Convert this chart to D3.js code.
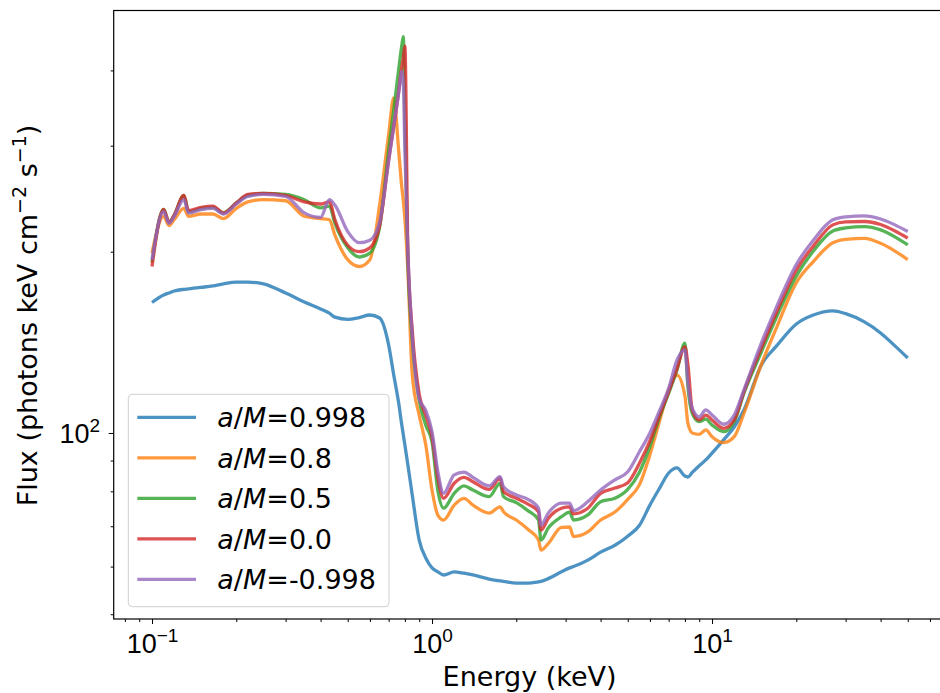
<!DOCTYPE html>
<html>
<head>
<meta charset="utf-8">
<script src="https://cdn.jsdelivr.net/npm/d3@7"></script>
<style>
  body { margin: 0; background: #fff; }
  svg { display: block; font-family: "DejaVu Sans", sans-serif; }
</style>
</head>
<body>
<div id="chart"></div>
<script>
// 1: DATA
const energy = [0.1, 0.11, 0.115, 0.12, 0.13, 0.135, 0.15, 0.165, 0.18, 0.2,
  0.22, 0.25, 0.3, 0.35, 0.4, 0.43, 0.45, 0.5, 0.55, 0.6,
  0.65, 0.7, 0.73, 0.76, 0.78, 0.79, 0.8, 0.82, 0.85, 0.9,
  0.95, 1.0, 1.05, 1.1, 1.2, 1.3, 1.4, 1.6, 1.75, 1.8,
  2.0, 2.2, 2.4, 2.45, 2.6, 2.9, 3.1, 3.2, 3.6, 4.0,
  4.5, 5.0, 5.5, 6.0, 6.5, 7.0, 7.5, 8.0, 8.2, 8.5,
  9.0, 9.5, 10, 11, 12, 13, 15, 17, 20, 23,
  27, 30, 35, 40, 45, 50];

const flux0998 = [164.7, 169.5, 170.8, 172.1, 173.2, 173.5, 174.5, 175.5, 176.9, 178,
  178, 176.9, 170.8, 165, 160.7, 158.1, 155.7, 154.4, 155.5, 157,
  155.2, 140, 124.8, 112.2, 103.1, 99.2, 95.5, 88.5, 78.9, 66.4,
  62.0, 59.7, 58.8, 58.1, 58.8, 58.5, 58.1, 57.2, 56.8, 56.7,
  56.3, 56.3, 56.6, 56.7, 57.3, 58.8, 59.7, 60.0, 61.5, 63.4,
  65.1, 67.4, 70.2, 75.9, 81, 85.8, 87.5, 84.8, 84.5, 86,
  88.2, 90.2, 92.6, 97.4, 102.3, 109.2, 129.7, 139.5, 151.7, 157,
  159.5, 157.8, 152.9, 146.6, 139.5, 133.2];

const flux08 = [199, 229, 221, 226, 236, 229, 231, 231, 227, 236,
  242, 244, 243, 229, 227, 226, 213, 194, 189, 194,
  239, 313, 360, 295, 256, 243, 227, 186, 125, 107,
  95.5, 80.4, 73, 71.7, 75.9, 77.9, 75.9, 73.6, 75.4, 74,
  71.7, 69.2, 66.4, 63.9, 65.5, 69.7, 69.8, 67.3, 68.5, 71.7,
  73.9, 77.6, 82, 92, 104.8, 117.9, 124.8, 115.2, 103.8, 100,
  99.5, 101.2, 98.6, 96.4, 98.6, 107.8, 130, 149.6, 177.7, 192.6,
  206.9, 209.6, 210.5, 206.5, 200.5, 194.1];

const flux05 = [192, 235, 224, 230, 248, 233, 236, 237, 232, 241,
  248, 250, 249, 244, 236.5, 238, 223, 203, 196, 199,
  220, 295, 344, 401, 440, 455, 331, 194, 143, 113.5,
  103, 96.6, 80, 75, 79.4, 81.7, 80.4, 78.4, 82.5, 78.4,
  76.6, 74.3, 71.7, 66.4, 69.5, 72.6, 73.9, 71.7, 73.1, 76.9,
  77.9, 80.6, 86, 95, 106.4, 116.4, 127.3, 141, 119.4, 107.8,
  104.4, 105.4, 103.1, 100.5, 104.4, 116.4, 136.3, 155.8, 182.3, 200.5,
  216.5, 219, 220.2, 217.4, 211.7, 205.3];

const flux00 = [189, 235, 224, 230, 248, 234, 237, 238, 232, 241,
  249, 250, 248, 242, 240, 242, 226, 205, 200, 203,
  221, 284, 323, 368, 405, 420, 439, 201, 148, 116,
  107, 98.5, 84, 77.9, 82.5, 84.4, 83, 80.6, 84.1, 79.9,
  77.9, 76.2, 74, 69, 72.1, 75, 75.4, 73.4, 75, 79.4,
  81, 82.7, 89, 97, 107.1, 117.1, 128, 139, 130, 109.2,
  105.1, 107.1, 105.1, 101.8, 105.1, 117.1, 138.5, 158.8, 186.5, 204.3,
  221.6, 224.2, 224.5, 221.9, 216.5, 210.7];

const fluxm0998 = [194, 233, 223, 229, 244, 232, 235, 236, 231, 240,
  247, 249, 247, 232, 228, 244, 239, 216, 207, 209,
  224, 283, 323, 367, 398, 380, 295, 198, 145, 114,
  109, 100.4, 86, 79.4, 85.2, 86.1, 84.4, 81.7, 84.6, 81.4,
  78.9, 77.6, 75, 70.3, 73.6, 76.5, 76.5, 74.3, 76.9, 80.4,
  83.6, 86.2, 93, 100, 109, 118.6, 132.2, 137.4, 121, 109.9,
  106.4, 109.2, 107.1, 103.4, 107.1, 117.9, 141, 162, 190.4, 209,
  225.9, 228.5, 229.4, 226.6, 221.6, 216.1];

const spinLabels = ["0.998", "0.8", "0.5", "0.0", "-0.998"];
const seriesColors = ["#1f77b4", "#ff7f0e", "#2ca02c", "#d62728", "#9467bd"];
const allFlux = [flux0998, flux08, flux05, flux00, fluxm0998];

const xMajor = [0.1, 1, 10];
const xMajorExp = ["\u22121", "0", "1"];
const xMinor = [0.08, 0.09, 0.2, 0.3, 0.4, 0.5, 0.6, 0.7, 0.8, 0.9,
  2, 3, 4, 5, 6, 7, 8, 9, 20, 30, 40, 50, 60];
const yMajor = [100];
const yMinor = [50, 60, 70, 80, 90, 200, 300, 400];

// 2: LAYOUT
const W = 940, H = 693;
const margin = { top: 10.5, left: 113.7, bottom: 74, right: -5.5 };
const width = W - margin.left - margin.right;
const height = H - margin.top - margin.bottom;
const fs = 27;      // main font size (px)
const fsSup = 19;   // superscript size

const svg = d3.select("#chart")
  .append("svg")
  .attr("width", W)
  .attr("height", H);

const g = svg.append("g")
  .attr("transform", `translate(${margin.left},${margin.top})`);

// 3: SCALES
const xScale = d3.scaleLog()
  .domain([0.07298, 68.2])
  .range([0, width]);

const yScale = d3.scaleLog()
  .domain([49.1, 503])
  .range([height, 0]);

// 4: LINES
const line = d3.line()
  .x(d => xScale(d[0]))
  .y(d => yScale(d[1]))
  .curve(d3.curveMonotoneX);

allFlux.forEach((vals, i) => {
  g.append("path")
    .datum(energy.map((e, k) => [e, vals[k]]))
    .attr("d", line)
    .attr("fill", "none")
    .attr("stroke", seriesColors[i])
    .attr("stroke-opacity", 0.8)
    .attr("stroke-width", 3.3)
    .attr("stroke-linejoin", "round");
});

// 5: AXES
function styleAxis(sel) {
  sel.select(".domain").remove();
  sel.selectAll(".tick line").attr("stroke", "#000").attr("stroke-width", 1);
}

// superscript helper: "10" + raised exponent
function powerLabel(t, exp) {
  t.append("tspan").text("10");
  t.append("tspan").attr("dy", -11).style("font-size", fsSup + "px").text(exp);
}

g.append("g")
  .attr("transform", `translate(0,${height})`)
  .call(d3.axisBottom(xScale).tickValues(xMinor).tickSize(3).tickFormat(""))
  .call(styleAxis);

const xAx = g.append("g")
  .attr("transform", `translate(0,${height})`)
  .call(d3.axisBottom(xScale).tickValues(xMajor).tickSize(5))
  .call(styleAxis);

xAx.selectAll(".tick text")
  .attr("fill", "#000")
  .style("font-size", fs + "px")
  .attr("y", 34)
  .attr("dy", 0)
  .text(null)
  .each(function (d, i) { powerLabel(d3.select(this), xMajorExp[i]); });

g.append("g")
  .call(d3.axisLeft(yScale).tickValues(yMinor).tickSize(3).tickFormat(""))
  .call(styleAxis);

const yAx = g.append("g")
  .call(d3.axisLeft(yScale).tickValues(yMajor).tickSize(5))
  .call(styleAxis);

yAx.selectAll(".tick text")
  .attr("fill", "#000")
  .style("font-size", fs + "px")
  .attr("x", -13.5)
  .attr("dy", 10)
  .text(null)
  .each(function () { powerLabel(d3.select(this), "2"); });

// frame
g.append("rect")
  .attr("x", 0)
  .attr("y", 0)
  .attr("width", width)
  .attr("height", height)
  .attr("fill", "none")
  .attr("stroke", "#000")
  .attr("stroke-width", 1.2);

// 6: LABELS
g.append("text")
  .attr("x", width / 2)
  .attr("y", 686 - margin.top)
  .attr("text-anchor", "middle")
  .style("font-size", fs + "px")
  .text("Energy (keV)");

const yLab = g.append("text")
  .attr("transform", `translate(${37 - margin.left},${315.5 - margin.top}) rotate(-90)`)
  .attr("text-anchor", "middle")
  .style("font-size", fs + "px");
yLab.append("tspan").text("Flux (photons keV cm");
yLab.append("tspan").attr("dy", -11).style("font-size", fsSup + "px").text("\u22122");
yLab.append("tspan").attr("dy", 11).text(" s");
yLab.append("tspan").attr("dy", -11).style("font-size", fsSup + "px").text("\u22121");
yLab.append("tspan").attr("dy", 11).text(")");

// 7: LEGEND
const legend = g.append("g")
  .attr("transform", `translate(${128.3 - margin.left},${394.3 - margin.top})`);

legend.append("rect")
  .attr("width", 260.7)
  .attr("height", 212.4)
  .attr("rx", 4)
  .attr("fill", "#fff")
  .attr("fill-opacity", 0.8)
  .attr("stroke", "#d0d0d0")
  .attr("stroke-width", 1);

spinLabels.forEach((lab, i) => {
  const yy = 23 + i * 40.5;
  legend.append("line")
    .attr("x1", 9)
    .attr("x2", 67.7)
    .attr("y1", yy)
    .attr("y2", yy)
    .attr("stroke", seriesColors[i])
    .attr("stroke-opacity", 0.8)
    .attr("stroke-width", 3.3);
  const t = legend.append("text")
    .attr("x", 89)
    .attr("y", yy + 10)
    .style("font-size", fs + "px");
  t.append("tspan").style("font-style", "italic").text("a");
  t.append("tspan").text("/");
  t.append("tspan").style("font-style", "italic").text("M");
  t.append("tspan").text("=" + lab);
});
</script>
</body>
</html>
